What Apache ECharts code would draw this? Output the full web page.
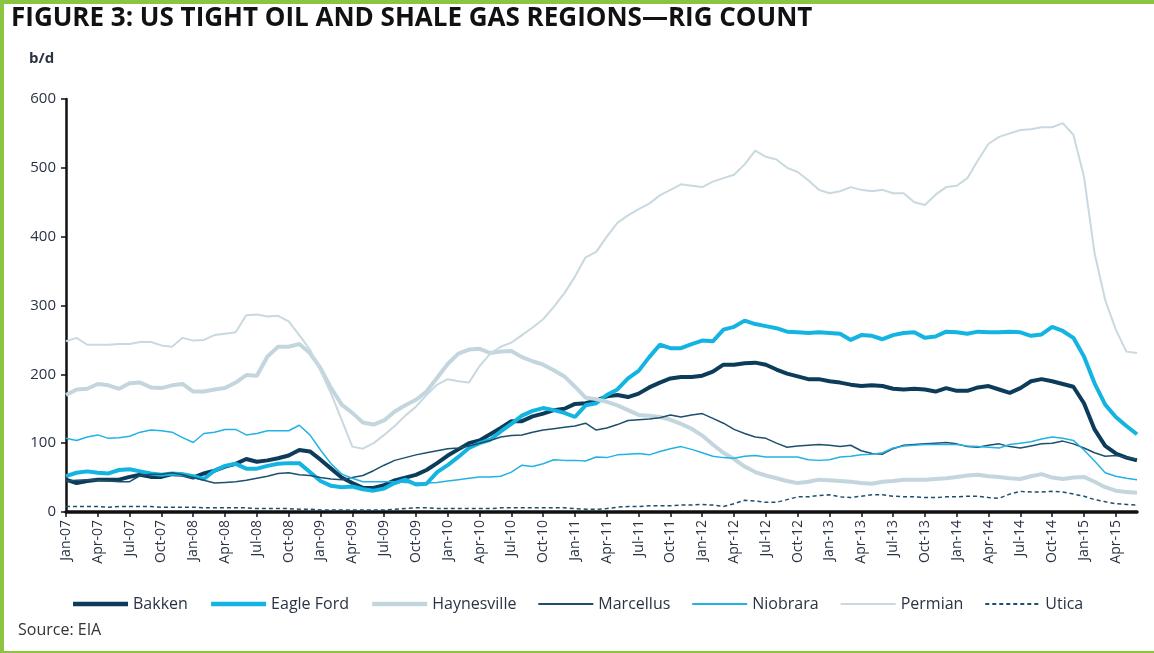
<!DOCTYPE html>
<html>
<head>
<meta charset="utf-8">
<script src="https://cdn.jsdelivr.net/npm/echarts@6/dist/echarts.min.js"></script>
<style>
  html, body { margin: 0; padding: 0; background: #fff; }
  #main { width: 1154px; height: 653px; }
</style>
</head>
<body>
<div id="main"></div>
<script>
// 月份 Jan-07 .. Jun-15
var monthNames = ['Jan','Feb','Mar','Apr','May','Jun','Jul','Aug','Sep','Oct','Nov','Dec'];
var months = [];
for (var y = 7; y <= 15; y++) {
  for (var m = 0; m < 12; m++) {
    if (y === 15 && m > 5) break;
    months.push(monthNames[m] + '-' + (y < 10 ? '0' + y : '' + y));
  }
}

var bakken = [47,42,45,47,47,47,51,54,51,51,55,54,50,56,60,66,70,77,73,75,78,82,90,88,
  76,63,50,42,35,35,39,46,50,54,61,71,82,91,100,104,113,122,132,132,139,143,148,150,
  157,158,162,168,170,167,172,181,188,194,196,196,198,204,214,214,216,217,214,207,201,197,193,193,
  190,188,185,183,184,183,179,178,179,178,175,180,176,176,181,183,178,173,180,190,193,190,186,182,
  158,120,96,85,79,75];

var eagleFord = [52,57,59,57,56,61,62,59,56,54,56,55,52,48,60,67,70,63,63,67,70,71,71,58,
  45,38,36,37,33,31,34,42,47,40,41,58,68,80,93,100,105,117,128,140,147,151,148,144,
  138,155,158,170,178,194,205,225,243,238,238,244,249,248,265,269,278,273,270,267,262,261,260,261,
  260,259,250,257,256,251,257,260,261,253,255,262,261,259,262,261,261,262,261,256,258,269,263,253,
  226,187,156,138,125,113];

var haynesville = [170,178,179,186,184,179,187,188,181,180,184,186,175,175,178,180,188,199,198,226,240,240,244,231,
  209,180,156,144,130,127,133,146,155,163,175,195,215,230,236,237,231,233,234,225,219,214,206,197,
  182,166,164,160,155,148,141,140,138,134,128,121,111,98,86,77,66,58,53,49,45,42,44,47,
  46,45,44,42,41,44,45,47,47,47,48,49,51,53,54,52,51,49,48,52,55,50,48,50,
  51,44,36,31,29,28];

var marcellus = [45,46,47,46,45,44,44,53,55,55,57,54,50,46,42,43,44,46,49,52,56,57,54,53,
  50,48,47,50,53,60,68,75,79,83,86,89,92,93,96,100,104,109,111,112,116,119,121,123,
  125,129,119,122,127,133,134,135,137,141,138,141,143,136,129,120,114,109,107,100,94,96,97,98,
  97,95,97,89,85,84,92,97,98,99,100,101,99,95,94,97,99,95,93,96,99,100,103,99,
  93,86,81,82,79,77];

var niobrara = [107,104,109,112,107,108,110,116,119,118,116,108,101,114,116,120,120,112,114,118,118,118,126,112,
  90,70,55,49,44,44,44,44,43,42,42,43,45,47,49,51,51,52,58,68,66,70,76,75,
  75,74,80,79,83,84,85,83,88,92,95,91,86,81,79,78,81,82,80,80,80,80,76,75,
  76,80,81,83,84,86,93,96,97,98,98,98,98,96,95,94,93,98,100,102,106,109,107,104,
  90,74,57,52,49,47];

var permian = [248,253,243,243,243,244,244,247,247,242,240,253,249,250,257,259,261,286,287,284,285,277,257,236,
  205,172,134,95,92,100,112,125,140,153,170,185,193,190,188,212,230,240,246,257,268,280,298,318,
  342,370,378,400,420,431,440,448,460,468,476,474,472,480,485,490,505,525,516,512,500,494,482,468,
  463,466,472,468,466,468,463,463,450,446,461,472,474,485,511,535,545,550,555,556,559,559,565,548,
  487,376,308,265,233,231];

var utica = [8,8,8,8,7,8,8,8,8,7,7,7,7,6,6,6,6,6,5,5,5,5,4,4,
  3,3,3,3,3,3,3,4,5,6,6,5,5,5,5,5,5,6,6,6,6,6,6,6,
  5,4,4,5,7,8,8,9,9,9,10,10,11,10,8,12,17,16,14,14,18,22,22,24,
  25,22,21,23,25,25,23,22,22,21,21,22,22,23,23,21,20,26,30,29,29,30,29,26,
  23,18,15,12,11,10];

var yTicks = [0, 100, 200, 300, 400, 500, 600];

var navy = '#0d3b5a';
var cyan = '#14b4e2';
var grey = '#c3d6dd';

function mkLine(name, data, color, width, type) {
  return {
    name: name,
    type: 'line',
    data: data,
    showSymbol: false,
    symbol: 'none',
    smooth: false,
    lineStyle: { color: color, width: width, type: type || 'solid' },
    itemStyle: { color: color },
    emphasis: { disabled: true }
  };
}

var myChart = echarts.init(document.getElementById('main'));
var option = {
  backgroundColor: '#fff',
  animation: false,
  graphic: [
    { type: 'rect', left: 0, top: 0, shape: { width: 1154, height: 4 }, style: { fill: '#8cc340' } },
    { type: 'rect', left: 0, top: 0, shape: { width: 4, height: 653 }, style: { fill: '#8cc340' } },
    { type: 'rect', left: 0, top: 651, shape: { width: 1154, height: 2 }, style: { fill: '#8cc340' } },
    {
      type: 'text', left: 11, top: 6,
      style: {
        text: 'FIGURE 3: US TIGHT OIL AND SHALE GAS REGIONS\u2014RIG COUNT',
        font: 'bold 26px "Open Sans", sans-serif',
        fill: '#111'
      }
    },
    {
      type: 'text', left: 29, top: 51,
      style: { text: 'b/d', font: 'bold 15px "Open Sans", sans-serif', fill: '#2a3345' }
    },
    {
      type: 'text', left: 18, top: 622,
      style: { text: 'Source: EIA', font: '16px "Open Sans", sans-serif', fill: '#333' }
    }
  ],
  legend: {
    left: 'center',
    top: 591,
    itemWidth: 55,
    itemHeight: 14,
    itemGap: 21,
    itemStyle: { opacity: 0 },
    textStyle: { fontSize: 16, color: '#2a3345', fontFamily: '"Open Sans", sans-serif' },
    data: [
      { name: 'Bakken', lineStyle: { width: 4.5 } },
      { name: 'Eagle Ford', lineStyle: { width: 4.5 } },
      { name: 'Haynesville', lineStyle: { width: 4.5 } },
      { name: 'Marcellus', lineStyle: { width: 1.8 } },
      { name: 'Niobrara', lineStyle: { width: 1.8 } },
      { name: 'Permian', lineStyle: { width: 2.2 } },
      { name: 'Utica', lineStyle: { width: 1.8 } }
    ]
  },
  grid: { left: 66, right: 17, top: 99, bottom: 141, containLabel: false },
  xAxis: {
    type: 'category',
    data: months,
    boundaryGap: false,
    axisLine: { lineStyle: { color: '#111', width: 3.5 } },
    axisTick: { interval: 2, length: 5, lineStyle: { color: '#111', width: 1.5 } },
    axisLabel: {
      interval: 2, rotate: 90, fontSize: 14, color: '#2a3345', margin: 8,
      fontFamily: '"Open Sans", sans-serif'
    },
    splitLine: { show: false }
  },
  yAxis: {
    type: 'value',
    min: yTicks[0],
    max: yTicks[yTicks.length - 1],
    interval: 100,
    axisLine: { show: true, lineStyle: { color: '#111', width: 2.5 } },
    axisTick: { show: true, length: 5, lineStyle: { color: '#111', width: 1.5 } },
    axisLabel: { fontSize: 15, color: '#2a3345', margin: 10, fontFamily: '"Open Sans", sans-serif' },
    splitLine: { show: false }
  },
  series: [
    mkLine('Bakken', bakken, navy, 4),
    mkLine('Eagle Ford', eagleFord, cyan, 4),
    mkLine('Haynesville', haynesville, grey, 4),
    mkLine('Marcellus', marcellus, '#1d4f6e', 1.5),
    mkLine('Niobrara', niobrara, '#22b2e4', 1.5),
    mkLine('Permian', permian, '#c8d9df', 2),
    mkLine('Utica', utica, '#1d4f6e', 1.5, [4, 3])
  ]
};
myChart.setOption(option);
</script>
</body>
</html>
